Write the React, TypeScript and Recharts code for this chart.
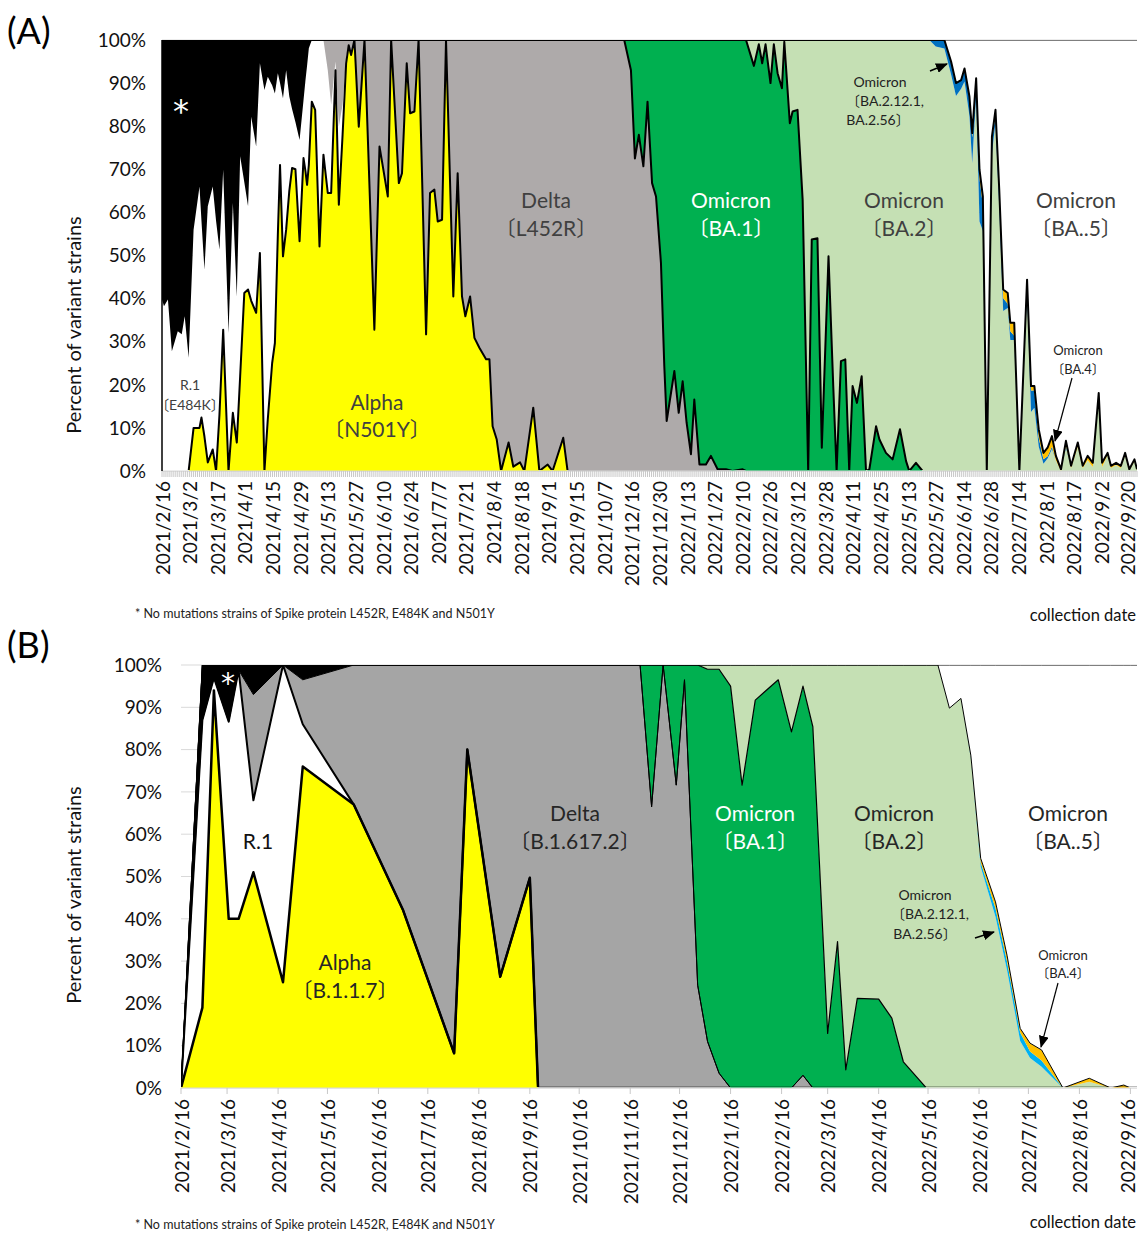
import React from 'react';
import { AreaChart, Area, XAxis, YAxis, CartesianGrid } from 'recharts';

const FONT = "Lato, 'Noto Sans CJK JP', 'DejaVu Sans', sans-serif";

// ---------------- Panel A (category axis: sampled collection dates) ----------------
const aTickLabels = [
  '2021/2/16', '2021/3/2', '2021/3/17', '2021/4/1', '2021/4/15', '2021/4/29', '2021/5/13', '2021/5/27',
  '2021/6/10', '2021/6/24', '2021/7/7', '2021/7/21', '2021/8/4', '2021/8/18', '2021/9/1', '2021/9/15',
  '2021/10/7', '2021/12/16', '2021/12/30', '2022/1/13', '2022/1/27', '2022/2/10', '2022/2/26', '2022/3/12',
  '2022/3/28', '2022/4/11', '2022/4/25', '2022/5/13', '2022/5/27', '2022/6/14', '2022/6/28', '2022/7/14',
  '2022/8/1', '2022/8/17', '2022/9/2', '2022/9/20',
];
const aLabelStep = 14;
const aCategoryCount = 495;

// segment 1: R.1 / Alpha / no-mutation period
const aSeg1X = [0, 1, 3, 5, 8, 10, 11.5, 13.5, 16, 19, 20, 21.5, 23.2, 25.7, 27.4, 29.1, 31, 33.7, 35.9, 37.9,
  39.6, 41.7, 43.6, 45.2, 47.7, 49.6, 51.9, 53.6, 55.8, 57.2, 58.7, 59.8, 61.3, 62.9, 64.5, 65.9, 67.6, 69.7,
  71.7, 72.7, 73.5, 74.4, 75.9, 77.6, 79.8, 81.8, 84, 85.7, 87.9, 89.6, 91.5, 93.3, 94.6, 95.8];
const aSeg1Alpha = [0, 0, 0, 0, 0, 0, 0, 0, 10, 10, 12.4, 8, 2, 5, 0, 13, 32.8, 0, 13.5, 6.6,
  22, 41.3, 42.1, 39.5, 36.7, 50.6, 0, 12, 25, 29.7, 55, 71, 49.8, 56, 65, 70.3, 70, 53.3, 72.6, 69.5,
  66.4, 71, 85.7, 83.8, 52.1, 73.4, 64.5, 64.5, 93, 61.8, 78, 94.6, 98.8, 96.5];
const aSeg1R1 = [39.8, 38.2, 39.8, 27.8, 32.4, 31.7, 35.9, 26.3, 46, 56, 45.6, 38.7, 59.4, 61, 58, 38.4, 37.1, 32, 48.7, 33.9,
  51, 25.7, 19.3, 42.7, 38.6, 44, 88.4, 79.5, 64.5, 57.9, 37.3, 19, 36.7, 37, 21.9, 13.7, 11, 23.5, 13.4, 21.2,
  27.6, 27.1, 14.3, 16.2, 47.9, 26.6, 28.5, 20.5, 2, 18.2, 7, 1.4, 0, 0];
const aSeg1Star = [60.2, 61.8, 60.2, 72.2, 67.6, 68.3, 64.1, 73.7, 44, 34, 42, 53.3, 38.6, 34, 42, 48.6, 30.1, 68, 37.8, 59.5,
  27, 33, 38.6, 17.8, 24.7, 5.4, 11.6, 8.5, 10.5, 12.4, 7.7, 10, 13.5, 7, 13.1, 16, 19, 23.2, 14, 9.3,
  6, 1.9, 0, 0, 0, 0, 0, 0, 0, 0, 0, 0, 0, 0];
const aSeg1Delta = [0, 0, 0, 0, 0, 0, 0, 0, 0, 0, 0, 0, 0, 0, 0, 0, 0, 0, 0, 0,
  0, 0, 0, 0, 0, 0, 0, 0, 0, 0, 0, 0, 0, 0, 0, 0, 0, 0, 0, 0,
  0, 0, 0, 0, 0, 0, 7, 15, 5, 20, 15, 4, 1.2, 3.5];

// segment 2: Alpha -> Delta
const aSeg2X = [97.5, 99.7, 102.6, 107.6, 110.2, 114.4, 116.1, 120, 121.6, 124, 125.7, 127.9, 130, 133.8, 135.8,
  138, 139.7, 141.9, 143.9, 147.6, 149.8, 152, 153.7, 156.1, 158.3, 160.8, 164.2, 165.9, 167.5, 169.6,
  171.8, 175.6, 178, 181.4, 183.6, 188.1, 191.2, 195.4, 197.9, 203.3, 205.5, 220];
const aSeg2Alpha = [100, 79.9, 100, 32.8, 75.3, 63.7, 100, 66.8, 69.1, 94.6, 83, 83.4, 100, 31.7, 64.5,
  65.3, 57.9, 58.3, 100, 40.5, 69.1, 40.5, 35.9, 40.5, 30.9, 28.6, 25.9, 25.9, 10.4, 7.3,
  0, 6.6, 1, 2, 0, 14.7, 0, 1.5, 0, 7.7, 0, 0];
const aSeg2Delta = [0, 20.1, 0, 67.2, 24.7, 36.3, 0, 33.2, 30.9, 5.4, 17, 16.6, 0, 68.3, 35.5,
  34.7, 42.1, 41.7, 0, 59.5, 30.9, 59.5, 64.1, 59.5, 69.1, 71.4, 74.1, 74.1, 89.6, 92.7,
  100, 93.4, 99, 98, 100, 85.3, 100, 98.5, 100, 92.3, 100, 100];

// segment 3: Delta -> BA.1
const aSeg3X = [234.2, 237.6, 239.6, 241.6, 243.9, 246, 248.3, 250.3, 252.8, 254.5, 255.7, 259.6, 261.8, 263.8,
  265.8, 268, 269.7, 272.3, 275.6, 278.1, 281.5, 285.7, 289.1, 294.2];
const aSeg3Delta = [100, 93, 72.5, 78, 70.7, 85.7, 66.8, 63.7, 48.3, 24.3, 11.6, 23.2, 13.5, 20.8,
  11.2, 3.9, 16.6, 1.5, 1.5, 3.5, 0.4, 0.4, 0, 0.4];
const aSeg3Ba1 = [0, 7, 27.5, 22, 29.3, 14.3, 33.2, 36.3, 51.7, 75.7, 88.4, 76.8, 86.5, 79.2,
  88.8, 96.1, 83.4, 98.5, 98.5, 96.5, 99.6, 99.6, 100, 99.6];

// segment 4: BA.1 -> BA.2
const aSeg4X = [295.9, 299.9, 302.4, 304.1, 305.8, 308.3, 310, 311.9, 314.1, 315.3, 318.1, 319.5, 322, 324.6,
  327.4, 329.2, 332.1, 334.3, 337.7, 340.1, 341.8, 344, 346.2, 348.2, 349.9, 352.1, 354.5, 356.7,
  358.4, 361.8, 363.5, 366.8, 370.2, 373.9, 377, 378.6, 382, 385.4];
const aSeg4Ba1 = [100, 94, 99, 94.6, 99, 90, 99, 92.3, 88.8, 99.6, 80.7, 83.4, 83.8, 62.9,
  0, 53.7, 54, 5.4, 49.8, 19.7, 0, 25.5, 25.9, 0, 19.7, 15.8, 22, 0,
  0.4, 10.4, 7.3, 4.2, 2.7, 9.7, 2.3, 0, 1.9, 0];
const aSeg4Ba2 = [0, 6, 1, 5.4, 1, 10, 1, 7.7, 11.2, 0.4, 19.3, 16.6, 16.2, 37.1,
  100, 46.3, 46, 94.6, 50.2, 80.3, 100, 74.5, 74.1, 100, 80.3, 84.2, 78, 100,
  99.6, 89.6, 92.7, 95.8, 97.3, 90.3, 97.7, 100, 98.1, 100];

// segment 5: BA.2 -> BA.2.12.1 / BA.4 / BA.5
const aSeg5X = [388.8, 392, 396.4, 399.8, 402.3, 404.9, 406.6, 409.1, 410.5, 412.5, 414.2, 415.9, 417.9, 420.5,
  422.3, 424.2, 426.2, 428.5, 429.8, 431.8, 434.4, 438.3, 440.3, 442, 444.2, 446.6, 448.7, 450.9, 452.9,
  455.5, 458, 460.6, 464, 466.5, 469, 471.6, 474.6, 476.3, 479.1, 480.8, 483.4, 485.8, 488, 490.1, 492.7, 494];
const aSeg5Ba2 = [100, 98.5, 98, 92, 87, 88.7, 90.4, 82.4, 71.4, 87.1, 57.9, 55.7, 0, 73.6,
  80.8, 61.3, 37.1, 37.8, 30.4, 30.4, 0, 41.4, 13.7, 14.7, 5.7, 1.7, 2.9, 5.1, 2.5,
  0, 5.5, 0.7, 5.6, 0.7, 2.5, 0.9, 17.1, 0.9, 3.7, 0.7, 1.4, 0.7, 3.7, 0.2, 2.2, 0.2];
const aSeg5Blue = [0, 1.5, 2, 3, 3, 2, 3, 4, 6, 3, 10, 6, 0, 3,
  2, 3, 3, 1, 2, 1, 0, 2, 5, 4, 2, 1, 0.5, 0.5, 0,
  0, 0.5, 0, 0, 0, 0, 0, 0, 0, 0, 0, 0, 0, 0, 0, 0, 0];
const aSeg5Orange = [0, 0, 0, 0, 0, 0, 0, 0.5, 1, 1, 2, 2, 0, 1,
  1, 1, 2, 2.5, 2, 3, 0, 1, 1, 1, 2, 1.5, 2, 2.5, 1,
  0.4, 1, 0.5, 1, 0.5, 1, 1, 1, 1, 0.5, 0.5, 0.5, 0.5, 0.5, 0.2, 0.5, 0.2];
const aSeg5Ba5 = [0, 0, 0, 5, 10, 9.3, 6.6, 13.1, 21.6, 8.9, 30.1, 36.3, 100, 22.4,
  16.2, 34.7, 57.9, 58.7, 65.6, 65.6, 100, 55.6, 80.3, 80.3, 90.3, 95.8, 94.6, 91.9, 96.5,
  99.6, 93, 98.8, 93.4, 98.8, 96.5, 98.1, 81.9, 98.1, 95.8, 98.8, 98.1, 98.8, 95.8, 99.6, 97.3, 99.6];

// ---------------- Panel B (time axis) ----------------
const bStartDate = '2021/2/16';
const bEndDate = '2022/9/20';
const bTickDates = ['2021/2/16', '2021/3/16', '2021/4/16', '2021/5/16', '2021/6/16', '2021/7/16', '2021/8/16',
  '2021/9/16', '2021/10/16', '2021/11/16', '2021/12/16', '2022/1/16', '2022/2/16', '2022/3/16', '2022/4/16',
  '2022/5/16', '2022/6/16', '2022/7/16', '2022/8/16', '2022/9/16'];

const bSeg1Dates = ['2021/2/16', '2021/3/1', '2021/3/8', '2021/3/17', '2021/3/23', '2021/4/1', '2021/4/19', '2021/5/1',
  '2021/6/1', '2021/7/1', '2021/8/1', '2021/8/9', '2021/8/29', '2021/9/16', '2021/9/21'];
const bSeg1Alpha = [0, 19, 94, 40, 40, 51, 25, 76, 67, 42, 8.2, 80, 26.3, 49.7, 0];
const bSeg1R1 = [0, 68, 3, 46.6, 58.8, 17, 75, 10, 0, 0, 0, 0, 0, 0, 0];
const bSeg1Delta = [0, 0, 0, 0, 0, 25, 0, 10.5, 33, 58, 91.8, 20, 73.7, 50.3, 100];
const bSeg1Star = [0, 13, 3, 13.4, 1.2, 7, 0, 3.5, 0, 0, 0, 0, 0, 0, 0];

const bSeg2Dates = ['2021/11/22', '2021/11/29', '2021/12/6', '2021/12/14', '2021/12/19', '2021/12/27', '2022/1/2',
  '2022/1/9', '2022/1/16', '2022/1/23', '2022/1/31', '2022/2/14', '2022/2/22', '2022/3/1', '2022/3/7',
  '2022/3/16', '2022/3/22', '2022/3/27', '2022/4/3', '2022/4/16', '2022/4/24', '2022/5/1', '2022/5/15'];
const bSeg2Delta = [100, 66.5, 100, 71.6, 96.5, 24.3, 11, 3.5, 0, 0, 0, 0, 0, 3, 0, 0, 0, 0, 0, 0, 0, 0, 0];
const bSeg2Ba1 = [0, 33.5, 0, 28.4, 3.5, 75.7, 88, 95.5, 95, 71.6, 91.7, 96.5, 84.2, 92, 85.4,
  12.9, 34.6, 4.3, 21.2, 21, 16.5, 6.2, 0];
const bSeg2Ba2 = [0, 0, 0, 0, 0, 0, 1, 1, 5, 28.4, 8.3, 3.5, 15.8, 5, 14.6,
  87.1, 65.4, 95.7, 78.8, 79, 83.5, 93.8, 100];

const bSeg3Dates = ['2022/5/22', '2022/5/29', '2022/6/5', '2022/6/11', '2022/6/17', '2022/6/26', '2022/7/3',
  '2022/7/11', '2022/7/17', '2022/7/24', '2022/8/6', '2022/8/22', '2022/9/4', '2022/9/12', '2022/9/16', '2022/9/20'];
const bSeg3Ba2 = [100, 89.8, 92.1, 78.1, 52.3, 40.5, 27.9, 11.1, 7.1, 5, 0, 1.5, 0, 0, 0, 0];
const bSeg3Blue = [0, 0, 0, 0.3, 1, 2, 2, 2, 1.5, 1.5, 0, 0, 0, 0, 0, 0];
const bSeg3Orange = [0, 0, 0, 0.3, 1, 1.5, 1.5, 1, 2, 2.5, 0, 0.8, 0, 0.7, 0, 0];
const bSeg3Ba5 = [0, 10.2, 7.9, 21.3, 45.7, 56, 68.6, 85.9, 89.4, 91, 100, 97.7, 100, 99.3, 100, 100];

const yTicks = [0, 10, 20, 30, 40, 50, 60, 70, 80, 90, 100];

// ---------------- building ----------------
const KEYS = ['alpha', 'r1', 'delta', 'star', 'ba1', 'ba2', 'blue', 'orange', 'ba5'];

type Seg = { x: number[]; vals: Record<string, number[]> };
function buildRows(segs: Seg[]) {
  const rows: any[] = [];
  segs.forEach((s) => {
    s.x.forEach((xv, i) => {
      const row: any = { x: xv };
      KEYS.forEach((k) => {
        row[k] = s.vals[k] ? s.vals[k][i] : 0;
      });
      rows.push(row);
    });
  });
  return rows;
}

function dayOf(s: string) {
  const [y, m, d] = s.split('/').map(Number);
  const [y0, m0, d0] = bStartDate.split('/').map(Number);
  return Math.round((Date.UTC(y, m - 1, d) - Date.UTC(y0, m0 - 1, d0)) / 86400000);
}

const rowsA = buildRows([
  { x: aSeg1X, vals: { alpha: aSeg1Alpha, r1: aSeg1R1, star: aSeg1Star, delta: aSeg1Delta } },
  { x: aSeg2X, vals: { alpha: aSeg2Alpha, delta: aSeg2Delta } },
  { x: aSeg3X, vals: { delta: aSeg3Delta, ba1: aSeg3Ba1 } },
  { x: aSeg4X, vals: { ba1: aSeg4Ba1, ba2: aSeg4Ba2 } },
  { x: aSeg5X, vals: { ba2: aSeg5Ba2, blue: aSeg5Blue, orange: aSeg5Orange, ba5: aSeg5Ba5 } },
]);

const rowsB = buildRows([
  { x: bSeg1Dates.map(dayOf), vals: { alpha: bSeg1Alpha, r1: bSeg1R1, delta: bSeg1Delta, star: bSeg1Star } },
  { x: bSeg2Dates.map(dayOf), vals: { delta: bSeg2Delta, ba1: bSeg2Ba1, ba2: bSeg2Ba2 } },
  { x: bSeg3Dates.map(dayOf), vals: { ba2: bSeg3Ba2, blue: bSeg3Blue, orange: bSeg3Orange, ba5: bSeg3Ba5 } },
]);

const aTicks = Array.from({ length: aCategoryCount }, (_, i) => i);
const bTicks = bTickDates.map(dayOf);

type Sty = { fill: string; stroke: string; w: number };
const aOrder = ['alpha', 'r1', 'star', 'delta', 'ba1', 'ba2', 'blue', 'orange', 'ba5'];
const aStyle: Record<string, Sty> = {
  alpha: { fill: '#FFFF00', stroke: '#000', w: 2 },
  r1: { fill: '#FFFFFF', stroke: 'none', w: 0 },
  star: { fill: '#000000', stroke: 'none', w: 0 },
  delta: { fill: '#AEAAAA', stroke: '#000', w: 2 },
  ba1: { fill: '#00B050', stroke: '#000', w: 2 },
  ba2: { fill: '#C5E0B4', stroke: 'none', w: 0 },
  blue: { fill: '#0070C0', stroke: 'none', w: 0 },
  orange: { fill: '#FFC000', stroke: '#000', w: 2 },
  ba5: { fill: '#FFFFFF', stroke: '#000', w: 1.2 },
};
const bOrder = ['alpha', 'r1', 'delta', 'star', 'ba1', 'ba2', 'blue', 'orange', 'ba5'];
const bStyle: Record<string, Sty> = {
  alpha: { fill: '#FFFF00', stroke: '#000', w: 2.5 },
  r1: { fill: '#FFFFFF', stroke: '#000', w: 2 },
  delta: { fill: '#A5A5A5', stroke: '#000', w: 1 },
  star: { fill: '#000000', stroke: '#000', w: 1 },
  ba1: { fill: '#00B050', stroke: '#000', w: 1.2 },
  ba2: { fill: '#C5E0B4', stroke: 'none', w: 0 },
  blue: { fill: '#00B0F0', stroke: 'none', w: 0 },
  orange: { fill: '#FFC000', stroke: '#000', w: 1 },
  ba5: { fill: '#FFFFFF', stroke: '#000', w: 1 },
};

function fillAreas(order: string[], sty: Record<string, Sty>) {
  return order.map((k) => (
    <Area key={'f' + k} type="linear" dataKey={k} stackId="fill" fill={sty[k].fill} fillOpacity={1}
      stroke="none" isAnimationActive={false} dot={false} activeDot={false} />
  ));
}
function lineAreas(order: string[], sty: Record<string, Sty>, cls: string) {
  return order.map((k) => (
    <Area key={'l' + k} className={cls} type="linear" dataKey={k} stackId="line" fill="none"
      stroke={sty[k].stroke} strokeWidth={sty[k].w} strokeLinejoin="round"
      isAnimationActive={false} dot={false} activeDot={false} />
  ));
}

const PLOT_RIGHT = 1127;

const TickA = (props: any) => {
  const { x, y, payload } = props;
  const v = payload.value;
  if (v % aLabelStep !== 0) return <g />;
  const label = aTickLabels[v / aLabelStep];
  if (!label) return <g />;
  const tx = Math.min(x, PLOT_RIGHT);
  return (
    <text x={tx} y={y} transform={`rotate(-90, ${tx}, ${y})`} textAnchor="end" dominantBaseline="central"
      fontFamily={FONT} fontSize={19} fill="#111">{label}</text>
  );
};

const TickB = (props: any) => {
  const { x, y, payload } = props;
  const idx = bTicks.indexOf(payload.value);
  const label = idx >= 0 ? bTickDates[idx] : '';
  const tx = Math.min(x, PLOT_RIGHT);
  return (
    <text x={tx} y={y} transform={`rotate(-90, ${tx}, ${y})`} textAnchor="end" dominantBaseline="central"
      fontFamily={FONT} fontSize={19} fill="#111">{label}</text>
  );
};

const T = (p: { x: number; y: number; s: number; c?: string; a?: 'start' | 'middle' | 'end'; f?: string; children: any }) => (
  <text x={p.x} y={p.y} fontSize={p.s} fill={p.c || '#404040'} textAnchor={p.a || 'middle'} fontFamily={p.f || FONT}>
    {p.children}
  </text>
);

export default function App() {
  return (
    <div style={{ position: 'absolute', left: 0, top: 0, width: 1138, height: 1234, background: '#fff', overflow: 'hidden' }}>
      <style>{`.lineA { clip-path: url(#clipLineA); } .lineB { clip-path: url(#clipLineB); }`}</style>
      <svg width={0} height={0} style={{ position: 'absolute' }}>
        <defs>
          <clipPath id="clipLineA" clipPathUnits="userSpaceOnUse">
            <rect x={0} y={0} width={1138} height={470} />
          </clipPath>
          <clipPath id="clipLineB" clipPathUnits="userSpaceOnUse">
            <rect x={0} y={0} width={1138} height={467} />
          </clipPath>
        </defs>
      </svg>
      <div style={{ position: 'absolute', left: 0, top: 0 }}>
        <AreaChart width={1138} height={600} data={rowsA} margin={{ top: 40, right: 1, left: 0, bottom: 0 }}>
          <CartesianGrid vertical={false} stroke="#D9D9D9" />
          {fillAreas(aOrder, aStyle)}
          {lineAreas(aOrder, aStyle, 'lineA')}
          <XAxis dataKey="x" type="number" domain={[0, aCategoryCount - 1]} ticks={aTicks} interval={0}
            allowDataOverflow tickSize={6} tickMargin={4} tickLine={{ stroke: '#C8C8C8' }}
            axisLine={{ stroke: '#D9D9D9' }} height={129} tick={(p: any) => <TickA {...p} />} />
          <YAxis type="number" domain={[0, 100]} ticks={yTicks} allowDataOverflow width={162}
            tickLine={false} tickSize={0} tickMargin={16} axisLine={{ stroke: '#000', strokeWidth: 1.5 }}
            tickFormatter={(v: number) => v + '%'} tick={{ fontSize: 19, fill: '#111', fontFamily: FONT }} />
        </AreaChart>
      </div>
      <div style={{ position: 'absolute', left: 0, top: 620 }}>
        <AreaChart width={1138} height={600} data={rowsB} margin={{ top: 45, right: 1, left: 0, bottom: 0 }}>
          <CartesianGrid vertical={false} stroke="#D9D9D9" />
          {fillAreas(bOrder, bStyle)}
          {lineAreas(bOrder, bStyle, 'lineB')}
          <XAxis dataKey="x" type="number" domain={[0, dayOf(bEndDate)]} ticks={bTicks} interval={0}
            allowDataOverflow tickSize={6} tickMargin={5} tickLine={{ stroke: '#C8C8C8' }}
            axisLine={{ stroke: '#D9D9D9' }} height={132} tick={(p: any) => <TickB {...p} />} />
          <YAxis type="number" domain={[0, 100]} ticks={yTicks} allowDataOverflow width={181}
            tickLine={false} tickSize={0} tickMargin={19} axisLine={false}
            tickFormatter={(v: number) => v + '%'} tick={{ fontSize: 19, fill: '#111', fontFamily: FONT }} />
        </AreaChart>
      </div>
      <svg width={1138} height={1234} style={{ position: 'absolute', left: 0, top: 0, pointerEvents: 'none' }}>
        <defs>
          <marker id="ah" markerWidth="12" markerHeight="10" refX="11" refY="5" orient="auto" markerUnits="userSpaceOnUse">
            <path d="M0,0 L12,5 L0,10 z" fill="#000" />
          </marker>
        </defs>
        {/* Panel A */}
        <T x={7} y={44} s={36} c="#000" a="start">(A)</T>
        <text x={73} y={325} transform="rotate(-90, 73, 325)" textAnchor="middle" dominantBaseline="central"
          fontFamily={FONT} fontSize={20} fill="#111">Percent of variant strains</text>
        <T x={181} y={122} s={32} c="#fff" f="'DejaVu Sans', sans-serif">*</T>
        <T x={190} y={390} s={14}>R.1</T>
        <T x={190} y={410} s={14}>〔E484K〕</T>
        <T x={377} y={410} s={21}>Alpha</T>
        <T x={377} y={437} s={21}>〔N501Y〕</T>
        <T x={546} y={208} s={21}>Delta</T>
        <T x={546} y={236} s={21}>〔L452R〕</T>
        <T x={731} y={208} s={21} c="#fff">Omicron</T>
        <T x={731} y={236} s={21} c="#fff">〔BA.1〕</T>
        <T x={904} y={208} s={21}>Omicron</T>
        <T x={904} y={236} s={21}>〔BA.2〕</T>
        <T x={1076} y={208} s={21}>Omicron</T>
        <T x={1076} y={236} s={21}>〔BA..5〕</T>
        <T x={880} y={87} s={14} c="#222">Omicron</T>
        <T x={885} y={106} s={14} c="#222">〔BA.2.12.1,</T>
        <T x={878} y={125} s={14} c="#222">BA.2.56〕</T>
        <line x1={930} y1={71} x2={947} y2={64} stroke="#000" strokeWidth={1.5} markerEnd="url(#ah)" />
        <T x={1078} y={355} s={13} c="#222">Omicron</T>
        <T x={1078} y={374} s={13} c="#222">〔BA.4〕</T>
        <line x1={1072} y1={378} x2={1055} y2={441} stroke="#000" strokeWidth={1.2} markerEnd="url(#ah)" />
        <T x={135} y={618} s={12.5} c="#222" a="start">* No mutations strains of Spike protein L452R, E484K and N501Y</T>
        <T x={1136} y={621} s={16.5} c="#111" a="end">collection date</T>

        {/* Panel B */}
        <T x={7} y={658} s={36} c="#000" a="start">(B)</T>
        <text x={73} y={895} transform="rotate(-90, 73, 895)" textAnchor="middle" dominantBaseline="central"
          fontFamily={FONT} fontSize={20} fill="#111">Percent of variant strains</text>
        <T x={228} y={693} s={28} c="#fff" f="'DejaVu Sans', sans-serif">*</T>
        <T x={258} y={849} s={21} c="#111">R.1</T>
        <T x={345} y={970} s={21} c="#262626">Alpha</T>
        <T x={345} y={998} s={21} c="#262626">〔B.1.1.7〕</T>
        <T x={575} y={821} s={21} c="#262626">Delta</T>
        <T x={575} y={849} s={21} c="#262626">〔B.1.617.2〕</T>
        <T x={755} y={821} s={21} c="#fff">Omicron</T>
        <T x={755} y={849} s={21} c="#fff">〔BA.1〕</T>
        <T x={894} y={821} s={21} c="#262626">Omicron</T>
        <T x={894} y={849} s={21} c="#262626">〔BA.2〕</T>
        <T x={1068} y={821} s={21} c="#262626">Omicron</T>
        <T x={1068} y={849} s={21} c="#262626">〔BA..5〕</T>
        <T x={925} y={900} s={14} c="#222">Omicron</T>
        <T x={930} y={919} s={14} c="#222">〔BA.2.12.1,</T>
        <T x={925} y={939} s={14} c="#222">BA.2.56〕</T>
        <line x1={975} y1={938} x2={994} y2={932} stroke="#000" strokeWidth={1.5} markerEnd="url(#ah)" />
        <T x={1063} y={960} s={13} c="#222">Omicron</T>
        <T x={1063} y={978} s={13} c="#222">〔BA.4〕</T>
        <line x1={1058} y1={983} x2={1041} y2={1047} stroke="#000" strokeWidth={1.2} markerEnd="url(#ah)" />
        <T x={135} y={1229} s={12.5} c="#222" a="start">* No mutations strains of Spike protein L452R, E484K and N501Y</T>
        <T x={1136} y={1228} s={16.5} c="#111" a="end">collection date</T>
      </svg>
    </div>
  );
}
